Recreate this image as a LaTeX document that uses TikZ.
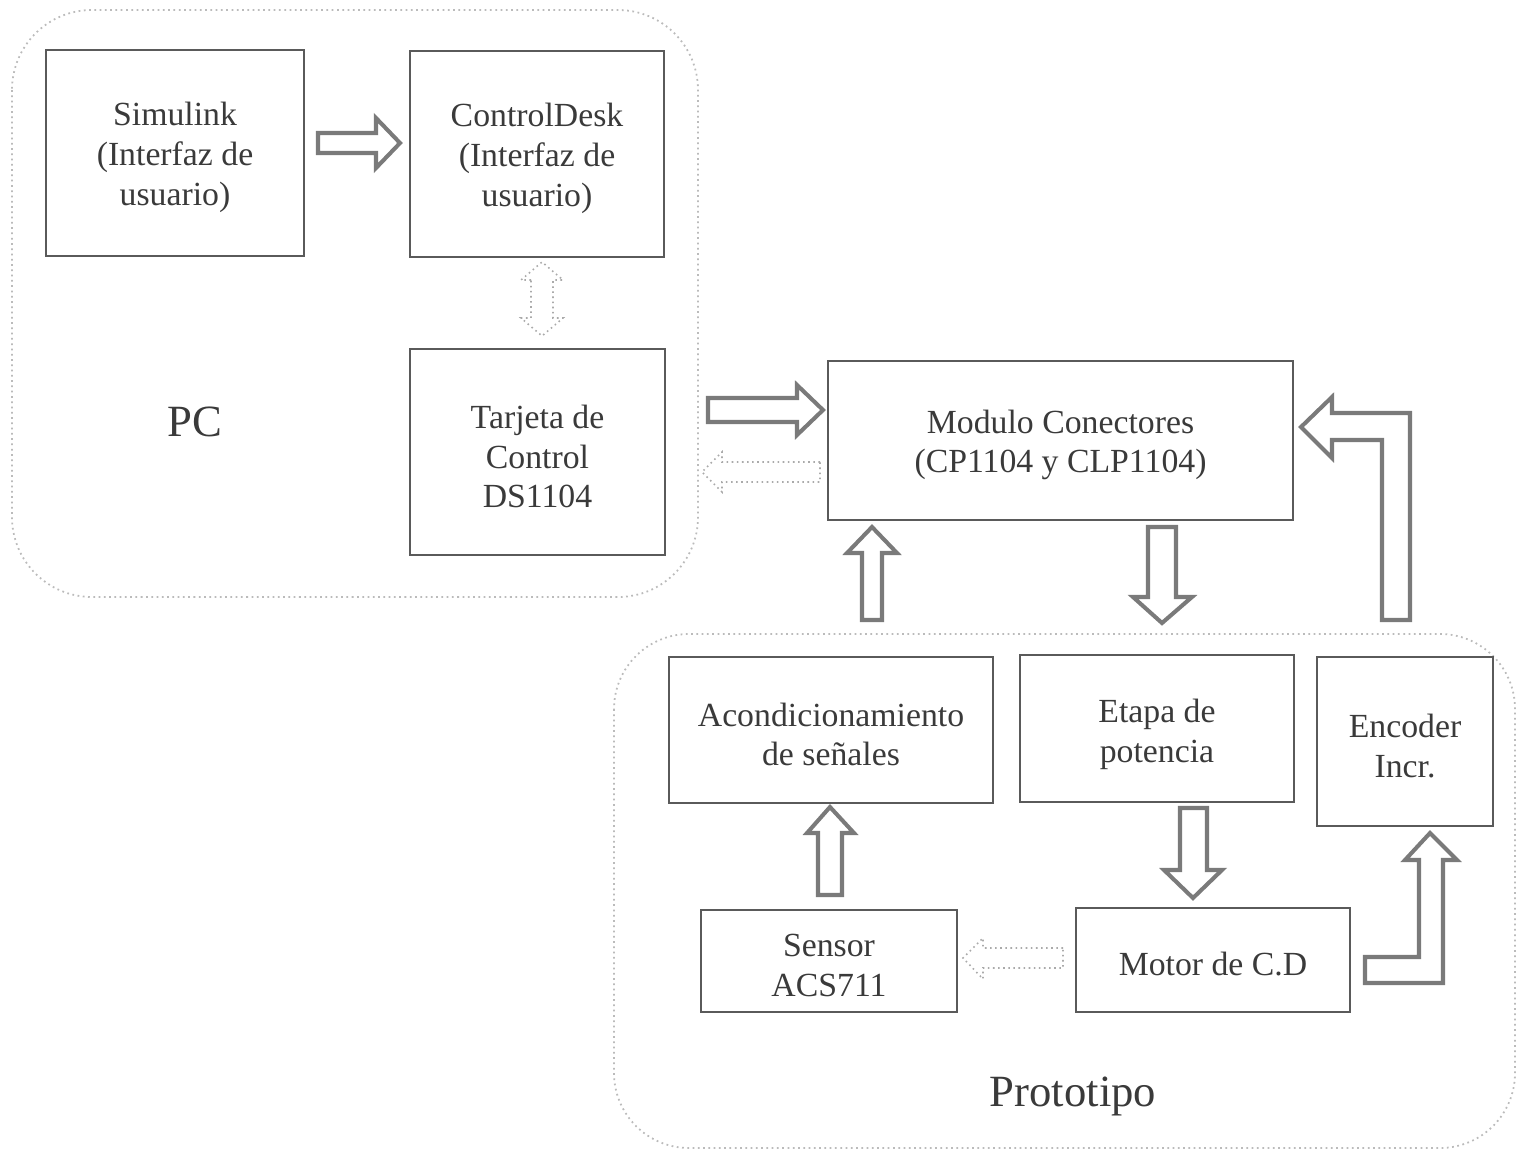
\documentclass[tikz,border=0pt]{standalone}
\usepackage{fontspec}
\setmainfont{Liberation Serif}
\begin{document}
\definecolor{boxline}{HTML}{5A5A5A}
\definecolor{txt}{HTML}{3A3A3A}
\definecolor{fatarrow}{HTML}{7A7A7A}
\definecolor{thinarrow}{HTML}{AAAAAA}
\definecolor{frameline}{HTML}{BBBBBB}
\tikzset{
  box/.style={draw=boxline, line width=0.6pt, rectangle, inner sep=0pt},
  boxtext/.style={align=center, text=txt, inner sep=0pt, yshift=-0.045cm,
    font=\fontsize{9.6}{11.3}\selectfont},
  group/.style={draw=frameline, line width=0.5pt, densely dotted},
  fat/.style={draw=fatarrow, line width=1.15pt, line join=miter, fill=white},
  slim/.style={draw=thinarrow, line width=0.45pt, densely dotted, fill=white},
  grouplabel/.style={text=txt, font=\fontsize{12.7}{14}\selectfont}
}
\begin{tikzpicture}[x=0.01cm, y=-0.01cm]
\useasboundingbox (0,0) rectangle (1518,1151);

% group frames
\draw[group, rounded corners=0.8cm] (12,10) rectangle (698,597);
\draw[group, rounded corners=0.75cm] (614,634) rectangle (1515,1148);
\node[grouplabel] (pclabel) at (195,422) {PC};
\node[grouplabel] (protolabel) at (1073,1096) {Prototipo};

% blocks
\node[box, minimum width=2.58cm, minimum height=2.06cm,
  label={[boxtext]center:{Simulink\\(Interfaz de\\usuario)}}] (sim) at (175,153) {};
\node[box, minimum width=2.54cm, minimum height=2.06cm,
  label={[boxtext]center:{ControlDesk\\(Interfaz de\\usuario)}}] (cdesk) at (537,154) {};
\node[box, minimum width=2.55cm, minimum height=2.06cm,
  label={[boxtext]center:{Tarjeta de\\Control\\DS1104}}] (card) at (537.5,452) {};
\node[box, minimum width=4.65cm, minimum height=1.59cm,
  label={[boxtext]center:{Modulo Conectores\\(CP1104 y CLP1104)}}] (mod) at (1060.5,440.5) {};
\node[box, minimum width=3.24cm, minimum height=1.46cm,
  label={[boxtext]center:{Acondicionamiento\\de señales}}] (acond) at (831,730) {};
\node[box, minimum width=2.74cm, minimum height=1.47cm,
  label={[boxtext, yshift=-0.015cm]center:{Etapa de\\potencia}}] (etapa) at (1157,728.5) {};
\node[box, minimum width=1.76cm, minimum height=1.69cm,
  label={[boxtext]center:{Encoder\\Incr.}}] (enc) at (1405,741.5) {};
\node[box, minimum width=2.56cm, minimum height=1.02cm,
  label={[boxtext]center:{Sensor\\ACS711}}] (sensor) at (829,961) {};
\node[box, minimum width=2.74cm, minimum height=1.04cm,
  label={[boxtext]center:{Motor de C.D}}] (motor) at (1213,960) {};

% Simulink -> ControlDesk
\draw[fat] (318,133) -- (376,133) -- (376,118) -- (400,143) -- (376,168) -- (376,153) -- (318,153) -- cycle;
% ControlDesk <-> Tarjeta
\draw[slim] (531,280) -- (521,280) -- (542,262) -- (563,280) -- (553,280) -- (553,318) -- (563,318) -- (542,336) -- (521,318) -- (531,318) -- cycle;
% Tarjeta -> Modulo
\draw[fat] (708,398) -- (797,398) -- (797,385) -- (823,410) -- (797,435) -- (797,422) -- (708,422) -- cycle;
% Modulo -> Tarjeta
\draw[slim] (820,462) -- (722,462) -- (722,452) -- (702,472) -- (722,492) -- (722,482) -- (820,482) -- cycle;
% Acondicionamiento -> Modulo
\draw[fat] (862,620) -- (862,553) -- (847,553) -- (872,527) -- (897,553) -- (882,553) -- (882,620) -- cycle;
% Modulo -> Etapa
\draw[fat] (1148,527) -- (1176,527) -- (1176,597) -- (1192,597) -- (1162,623) -- (1133,597) -- (1148,597) -- cycle;
% Encoder -> Modulo
\draw[fat] (1301,427) -- (1332,397) -- (1332,413) -- (1410,413) -- (1410,620) -- (1382,620) -- (1382,440) -- (1332,440) -- (1332,458) -- cycle;
% Sensor -> Acondicionamiento
\draw[fat] (818,895) -- (818,833) -- (807,833) -- (830,807) -- (854,833) -- (842,833) -- (842,895) -- cycle;
% Etapa -> Motor
\draw[fat] (1180,808) -- (1207,808) -- (1207,870) -- (1222,870) -- (1193,898) -- (1164,870) -- (1180,870) -- cycle;
% Motor -> Sensor
\draw[slim] (1063,948) -- (983,948) -- (983,938) -- (963,958) -- (983,979) -- (983,968) -- (1063,968) -- cycle;
% Motor -> Encoder
\draw[fat] (1430,833) -- (1457,860) -- (1443,860) -- (1443,983) -- (1365,983) -- (1365,957) -- (1419,957) -- (1419,860) -- (1405,860) -- cycle;
\end{tikzpicture}
\end{document}
